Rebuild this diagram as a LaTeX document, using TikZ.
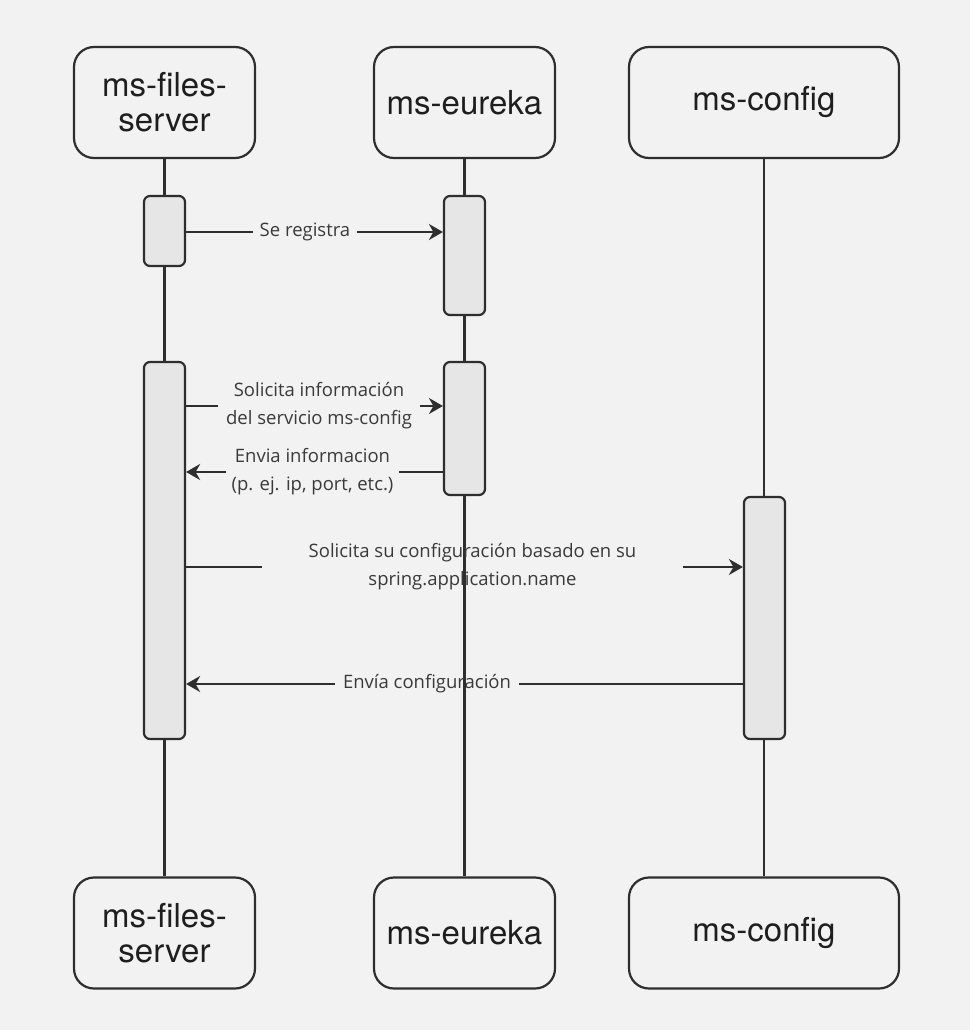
\documentclass[tikz,border=0pt]{standalone}
\usepackage{fontspec}
\setmainfont{Open Sans}
\newfontfamily\headfont{TeX Gyre Heros}
\usetikzlibrary{arrows.meta}
\definecolor{bg}{HTML}{F2F2F2}
\definecolor{ink}{HTML}{2E2E2E}
\definecolor{actfill}{HTML}{E6E6E6}
\definecolor{msgtext}{HTML}{3A3A3A}
\definecolor{headtext}{HTML}{1E1E1E}
\begin{document}
\begin{tikzpicture}[x=1pt,y=-1pt,
  actor/.style={draw=ink, line width=2.2pt, rounded corners=20pt, fill=bg,
    minimum height=111pt, inner sep=0pt, align=center,
    font=\headfont\fontsize{33}{35}\selectfont, text=headtext},
  act/.style={draw=ink, line width=2.2pt, rounded corners=6pt, fill=actfill,
    minimum width=41pt, inner sep=0pt},
  life/.style={draw=ink, line width=2.2pt},
  msg/.style={draw=ink, line width=2.2pt},
  tip/.style={-{Stealth[length=14pt,width=16pt,inset=4.5pt]}},
  lbl/.style={font=\fontsize{18.5}{28}\selectfont, text=msgtext, align=center,
    inner sep=0pt, minimum height=10pt}
]
\fill[bg] (0,0) rectangle (970,1030);
\useasboundingbox (0,0) rectangle (970,1030);

% actors (top)
\node[actor, minimum width=181pt] (A1) at (164.5,102.5) {ms-files-\\server};
\node[actor, minimum width=181pt] (A2) at (464.5,102.5) {ms-eureka};
\node[actor, minimum width=270pt] (A3) at (764,102.5) {ms-config};
% actors (bottom)
\node[actor, minimum width=181pt] (B1) at (164.5,933) {ms-files-\\server};
\node[actor, minimum width=181pt] (B2) at (464.5,933) {ms-eureka};
\node[actor, minimum width=270pt] (B3) at (764,933) {ms-config};

% lifelines
\draw[life] (A1.south) -- (B1.north);
\draw[life] (A2.south) -- (B2.north);
\draw[life] (A3.south) -- (B3.north);

% activation boxes
\node[act, minimum height=70pt]  (f1) at (164.5,231) {};
\node[act, minimum height=377pt] (f2) at (164.5,550.5) {};
\node[act, minimum height=119pt] (e1) at (464.5,255.5) {};
\node[act, minimum height=133pt] (e2) at (464.5,428.5) {};
\node[act, minimum height=242pt] (c1) at (764.5,618) {};

% message labels
\node[lbl, minimum width=104pt] (l1) at (305,232) {Se registra};
\node[lbl, minimum width=202pt] (l2) at (319,406) {Solicita información\\del servicio ms-config};
\node[lbl, minimum width=173pt] (l3) at (312.5,472) {Envia informacion\\(p. ej. ip, port, etc.)};
\node[lbl, minimum width=421pt] (l4) at (472.5,567) {Solicita su configuración basado en su\\spring.application.name};
\node[lbl, minimum width=184pt] (l5) at (427,684) {Envía configuración};

% messages
\draw[msg] (f1.east |- l1) -- (l1.west);
\draw[msg, tip] (l1.east) -- (e1.west |- l1);

\draw[msg] (f2.east |- l2) -- (l2.west);
\draw[msg, tip] (l2.east) -- (e2.west |- l2);

\draw[msg] (e2.west |- l3) -- (l3.east);
\draw[msg, tip] (l3.west) -- (f2.east |- l3);

\draw[msg] (f2.east |- l4) -- (l4.west);
\draw[msg, tip] (l4.east) -- (c1.west |- l4);

\draw[msg] (c1.west |- l5) -- (l5.east);
\draw[msg, tip] (l5.west) -- (f2.east |- l5);
\end{tikzpicture}
\end{document}
